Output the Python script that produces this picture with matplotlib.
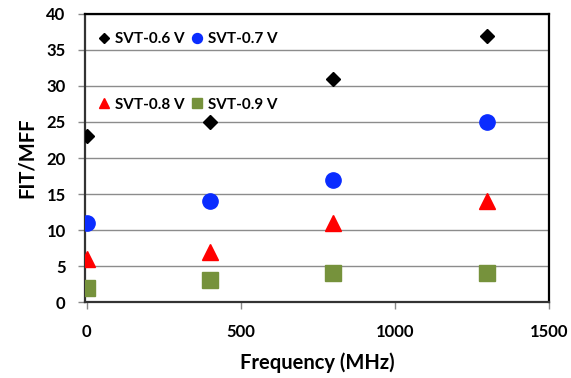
import numpy as np
import matplotlib
matplotlib.use("Agg")
import matplotlib.pyplot as plt

freq = [0, 400, 800, 1300]
svt06 = [23, 25, 31, 37]
svt07 = [11, 14, 17, 25]
svt08 = [6, 7, 11, 14]
svt09 = [2, 3, 4, 4]

plt.rcParams['font.family'] = ['Lato', 'DejaVu Sans']
plt.rcParams['font.weight'] = 'bold'

fig = plt.figure(figsize=(5.71, 3.78), dpi=100)
ax = fig.add_axes([0.149, 0.201, 0.812, 0.762])

h1, = ax.plot(freq, svt06, 'D', color='black', markersize=7.6, label='SVT-0.6 V', zorder=3)
h2, = ax.plot(freq, svt07, 'o', color='#0a2cff', markersize=11, label='SVT-0.7 V', zorder=3)
h3, = ax.plot(freq, svt08, '^', color='#ff0000', markersize=12, label='SVT-0.8 V', zorder=3)
h4, = ax.plot(freq, svt09, 's', color='#76923c', markersize=11, label='SVT-0.9 V', zorder=3)

ax.set_xlim(-5, 1500)
ax.set_ylim(0, 40)
ax.set_xticks([0, 500, 1000, 1500])
ax.set_yticks(np.arange(0, 41, 5))
ax.yaxis.grid(True, color='#8c8c8c', linewidth=1.0)
ax.set_axisbelow(True)

for s in ax.spines.values():
    s.set_linewidth(1.6)
    s.set_color('black')
ax.spines['left'].set_color('#333333')
ax.spines['bottom'].set_color('#333333')

ax.tick_params(axis='x', length=5, width=1, color='#888888', direction='out', labelsize=12, pad=11)
ax.tick_params(axis='y', length=5, width=1, color='#888888', direction='out', labelsize=12, pad=9)

ax.set_xlabel('Frequency (MHz)', fontsize=14.5, fontweight='bold', labelpad=9)
ax.set_ylabel('FIT/MFF', fontsize=14.5, fontweight='bold', labelpad=7)

leg = ax.legend(handles=[h1, h3, h2, h4], ncol=2, loc='upper left', frameon=False,
                markerscale=0.65, fontsize=11, labelspacing=3.4, handlelength=0.6,
                handletextpad=0.4, columnspacing=0.55, borderaxespad=0.3,
                bbox_to_anchor=(0.008, 0.975))

plt.savefig('out.png', dpi=100)
